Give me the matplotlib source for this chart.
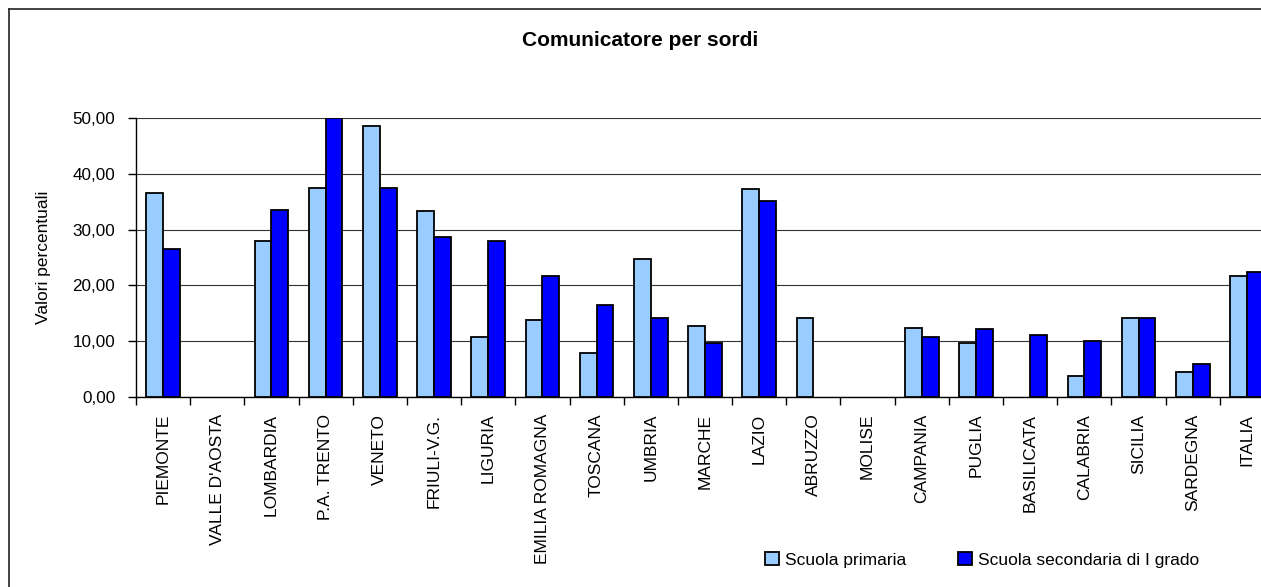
import numpy as np
import matplotlib
matplotlib.use('Agg')
import matplotlib.pyplot as plt
from matplotlib.ticker import FuncFormatter, MultipleLocator, FixedLocator
from matplotlib.lines import Line2D

plt.rcParams['font.family'] = ['Liberation Sans', 'DejaVu Sans']

regioni = ['PIEMONTE', "VALLE D'AOSTA", 'LOMBARDIA', 'P.A. TRENTO', 'VENETO',
           'FRIULI-V.G.', 'LIGURIA', 'EMILIA ROMAGNA', 'TOSCANA', 'UMBRIA',
           'MARCHE', 'LAZIO', 'ABRUZZO', 'MOLISE', 'CAMPANIA', 'PUGLIA',
           'BASILICATA', 'CALABRIA', 'SICILIA', 'SARDEGNA', 'ITALIA']

primaria = [36.5, 0.0, 27.9, 37.5, 48.6, 33.4, 10.7, 13.8, 7.9, 24.8,
            12.7, 37.2, 14.1, 0.0, 12.4, 9.7, 0.0, 3.8, 14.1, 4.5, 21.7]

secondaria = [26.5, 0.0, 33.5, 50.0, 37.5, 28.6, 27.9, 21.7, 16.5, 14.1,
              9.7, 35.2, 0.0, 0.0, 10.7, 12.1, 11.1, 10.0, 14.1, 5.9, 22.4]

W, H = 1261, 587
fig = plt.figure(figsize=(W / 100, H / 100), dpi=100)
fig.patch.set_facecolor('white')

# plot area (pixel based); the last category runs past the right edge
left, right, top, bottom = 136, 1274, 118, 397
ax = fig.add_axes([left / W, 1 - bottom / H, (right - left) / W, (bottom - top) / H])

x = np.arange(len(regioni))
w = 0.31
b1 = ax.bar(x - w / 2, primaria, w, color='#99CCFF', edgecolor='black', linewidth=1.3,
            label='Scuola primaria', zorder=3)
b2 = ax.bar(x + w / 2, secondaria, w, color='#0000FF', edgecolor='black', linewidth=1.3,
            label='Scuola secondaria di I grado', zorder=3)

# empty values leave no outline on the axis
for bars, vals in [(b1, primaria), (b2, secondaria)]:
    for rect, v in zip(bars, vals):
        if v == 0:
            rect.set_visible(False)

ax.set_xlim(-0.5, len(regioni) - 0.5)
ax.set_ylim(0, 50)

ax.yaxis.set_major_locator(MultipleLocator(10))
ax.yaxis.set_major_formatter(FuncFormatter(lambda v, p: f'{v:.2f}'.replace('.', ',')))
ax.yaxis.grid(True, color='#333333', linewidth=0.8, zorder=0)
ax.tick_params(axis='y', direction='out', length=6, width=1, pad=9, labelsize=12.3)

ax.set_xticks(x)
ax.set_xticklabels(regioni, rotation=90, va='top', ha='center')
ax.xaxis.set_minor_locator(FixedLocator(np.arange(-0.5, len(regioni), 1.0)))
ax.tick_params(axis='x', which='major', length=0, pad=12, labelsize=12.5)
ax.tick_params(axis='x', which='minor', direction='out', length=6, width=1)

for s in ['top', 'right']:
    ax.spines[s].set_visible(False)
for s in ['left', 'bottom']:
    ax.spines[s].set_color('black')
    ax.spines[s].set_linewidth(1.0)

ax.set_ylabel('Valori percentuali', fontsize=12.5)
ax.yaxis.set_label_coords((51 - left) / (right - left), 0.5)

fig.text(640 / W, 1 - 40 / H, 'Comunicatore per sordi', ha='center', va='center',
         fontsize=15, fontweight='bold')

fig.legend(loc='center', bbox_to_anchor=(982 / W, 1 - 560 / H), ncol=2, frameon=False,
           fontsize=12.5, handlelength=0.8, handleheight=0.8, handletextpad=0.35,
           columnspacing=3.0, borderpad=0)

# outer chart border (left and top edges visible)
fig.add_artist(Line2D([8.5 / W, 8.5 / W], [-0.1, 1 - 9 / H], color='#222222', linewidth=1.2))
fig.add_artist(Line2D([8.5 / W, 1.1], [1 - 9 / H, 1 - 9 / H], color='#222222', linewidth=1.2))

fig.savefig('out.png', dpi=100, facecolor='white')
